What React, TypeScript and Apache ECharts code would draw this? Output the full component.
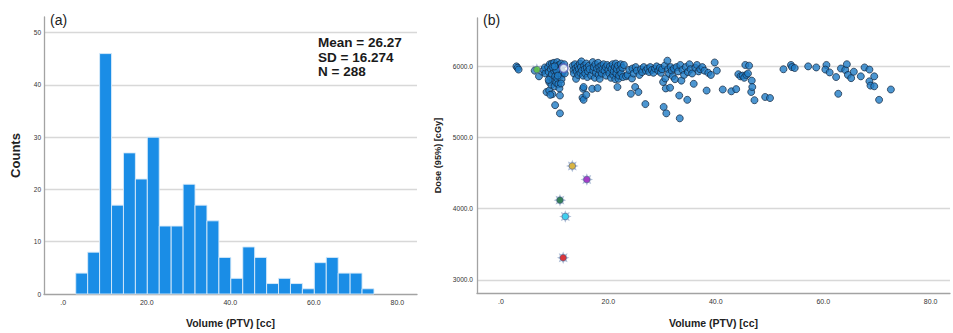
import React, { useEffect, useRef } from 'react';
import * as echarts from 'echarts';

// ---------- Data ----------
// (a) histogram of PTV volume
const histCounts = [4, 8, 46, 17, 27, 22, 30, 13, 13, 21, 17, 14, 7, 3, 9, 7, 2, 3, 2, 1, 6, 7, 4, 4, 1];
const binStart = 3.0;
const binWidth = 2.856;
const statsLines = ['Mean = 26.27', 'SD = 16.274', 'N = 288'];

const countTicks = [0, 10, 20, 30, 40, 50];
const volumeTicks = [0, 20, 40, 60, 80];
const doseTicks = [3000, 4000, 5000, 6000];

// (b) scatter: [volume cc, dose cGy]
const mainPoints: number[][] = [
  [2.9, 6000], [3.1, 5980], [3.3, 5955], [6.3, 5940], [7.1, 5860], [7.7, 5925], [8.0, 5950], [8.3, 5900], [8.5, 5640], [8.2, 5985],
  [8.8, 5990], [8.9, 5920], [9.0, 5660], [9.0, 5780], [9.1, 6030], [9.2, 5850], [9.3, 5960], [9.4, 5740], [9.5, 6040], [9.5, 5890],
  [9.6, 5610], [9.7, 5810], [9.8, 5990], [9.9, 5940], [9.9, 6050], [10.0, 5720], [10.1, 5455], [10.1, 5860], [10.2, 6010], [10.3, 5770],
  [10.4, 5930], [10.5, 6060], [10.5, 5830], [10.6, 5980], [10.7, 5750], [10.8, 6020], [10.8, 5900], [10.9, 5690], [11.0, 5590], [11.0, 5340],
  [11.1, 5960], [11.2, 6040], [11.3, 5880], [11.3, 5820], [11.4, 6000], [11.5, 5920], [9.2, 5600], [9.6, 5990], [10.3, 5950], [8.9, 5810],
  [10.0, 6000], [11.2, 5760], [10.6, 5870], [11.8, 6030], [11.9, 5900],
  [13.4, 6010], [13.5, 5950], [13.6, 5900], [13.8, 6030], [13.9, 5970], [14.0, 5825], [14.1, 5930], [14.3, 6000], [14.4, 5880], [14.5, 5960],
  [14.7, 6040], [14.8, 5910], [14.9, 5990], [15.0, 6070], [15.1, 5940], [15.2, 5560], [15.3, 5685], [15.3, 5870], [15.4, 5530], [15.4, 5710],
  [15.5, 6010], [15.6, 5960], [15.7, 5900], [15.9, 5600], [15.9, 6040], [16.0, 5980], [16.1, 5850], [16.2, 5930], [16.4, 6010], [16.5, 5960],
  [16.8, 5870], [17.0, 5685], [17.1, 6060], [17.2, 5940], [17.3, 5990], [17.5, 5840], [17.6, 6030], [17.7, 5910], [17.9, 5970], [18.0, 5695],
  [18.1, 6050], [18.2, 5880], [18.3, 5990], [18.4, 5825], [18.5, 5940], [18.7, 6010], [18.8, 5900], [18.9, 5960],
  [19.1, 6030], [19.3, 5940], [19.5, 5990], [19.6, 5870], [19.8, 6020], [20.0, 5950], [20.2, 5900], [20.3, 6000], [20.5, 5840], [20.6, 5960],
  [20.8, 6030], [20.9, 5880], [21.0, 5930], [21.2, 5990], [21.3, 5820], [21.4, 6040], [21.5, 5900], [21.6, 5960], [21.7, 5710], [21.8, 6010],
  [21.9, 5825], [22.0, 5870], [22.2, 5950], [22.3, 6030], [22.4, 5900], [22.6, 5980], [22.7, 5850], [22.9, 6020],
  [23.3, 5860], [23.6, 5880], [23.9, 5950], [24.2, 5615], [24.4, 5830], [24.5, 5970], [24.7, 5900], [25.0, 5710], [25.1, 5990], [25.3, 5940],
  [25.6, 5640], [25.8, 5880], [26.1, 5960], [26.3, 5920],
  [26.6, 5990], [26.9, 5470], [27.0, 5940], [27.3, 5970], [27.6, 5920], [27.8, 5990], [28.1, 5950], [28.4, 5910], [28.7, 5970], [29.0, 6000],
  [29.3, 5940], [29.6, 5980], [29.8, 5910],
  [30.0, 5960], [30.2, 5780], [30.3, 5430], [30.5, 6010], [30.6, 5830], [30.7, 5690], [30.8, 5340], [31.0, 6080], [31.1, 5960], [31.3, 5900],
  [31.5, 5700], [31.6, 5990], [31.8, 5940], [32.0, 5860], [32.2, 5970], [32.4, 5820], [32.7, 5990], [33.0, 5930], [33.2, 5590], [33.3, 5270],
  [33.4, 6020], [33.6, 5800], [33.8, 5950], [34.1, 5880], [34.4, 5990], [34.7, 5530], [34.8, 5920],
  [35.1, 6030], [35.3, 5960], [35.6, 5900], [35.9, 5755], [36.2, 5980], [36.5, 6020], [36.8, 5930], [37.1, 5960], [37.5, 5990], [37.9, 5940],
  [38.3, 5660], [38.6, 5910], [39.1, 5880], [39.8, 6055], [40.2, 5940],
  [41.3, 5675], [42.9, 5650], [43.8, 5680], [44.2, 5890], [44.6, 5860], [45.0, 5870], [45.3, 5840], [45.5, 6020], [45.7, 5880], [46.2, 6010],
  [46.6, 5640], [46.7, 5800], [46.8, 5710], [47.2, 5525], [46.0, 5900],
  [49.2, 5570], [50.1, 5555], [52.6, 5960], [54.0, 6020], [54.2, 5990], [54.7, 5977], [57.2, 6000], [58.7, 5985], [60.6, 6020], [60.4, 5955],
  [61.2, 5915], [62.4, 5850], [62.8, 5615], [63.3, 5970], [64.1, 5950], [64.4, 6030], [64.6, 5880], [65.2, 5835], [65.7, 5925], [67.0, 5860],
  [67.7, 5985], [68.6, 5955], [68.6, 5790], [68.8, 5730], [69.5, 5860], [69.5, 5720], [70.4, 5530], [72.6, 5675],
];

// highlighted cases
const outlierVolumes = [6.7, 13.3, 16.0, 11.0, 12.0, 11.6];
const outlierDoses = [5955, 4600, 4410, 4120, 3890, 3310];
const outlierColors = ['#5cc83a', '#e2b21e', '#a11ec4', '#17703a', '#22d2f2', '#e41414'];
const hollowPoint = [11.7, 5975];

// ---------- Styling helpers ----------
const FONT = '"Liberation Sans", Arial, Helvetica, sans-serif';
const STAR =
  'path://M2 1 L1.508 1.21 L1.707 1.707 L1.21 1.508 L1 2 L0.79 1.508 L0.293 1.707 L0.492 1.21 L0 1 L0.492 0.79 L0.293 0.293 L0.79 0.492 L1 0 L1.21 0.492 L1.707 0.293 L1.508 0.79 Z';

const near = (v: number, list: number[]) => list.some((t) => Math.abs(v - t) < 1e-6);
const fmtVol = (v: number) => (near(v, volumeTicks) ? (Math.abs(v) < 1e-9 ? '.0' : v.toFixed(1)) : '');
const fmtCount = (v: number) => (near(v, countTicks) ? String(Math.round(v)) : '');
const fmtDose = (v: number) => (near(v, doseTicks) ? v.toFixed(1) : '');

const axisLineStyle = { color: '#a3a3a3', width: 1.3 };
const splitLineStyle = { color: '#d8d8d8', width: 1.4 };

export default function App() {
  const ref = useRef<HTMLDivElement>(null);

  useEffect(() => {
    if (!ref.current) return;
    const chart = echarts.init(ref.current, undefined, { renderer: 'svg' });

    const histData = histCounts.map((c, i) => [binStart + i * binWidth, binStart + (i + 1) * binWidth, c]);

    const option: any = {
      animation: false,
      textStyle: { fontFamily: FONT },
      grid: [
        { left: 44, top: 17, width: 373, height: 280 },
        { left: 477, top: 18, width: 476, height: 278 },
      ],
      xAxis: [
        {
          gridIndex: 0,
          type: 'value',
          min: -4.6,
          max: 84.7,
          splitNumber: 4,
          axisLine: { show: true, onZero: false, lineStyle: axisLineStyle },
          axisTick: { show: false },
          splitLine: { show: false },
          axisLabel: { formatter: fmtVol, fontSize: 7, color: '#333', margin: 5, fontFamily: FONT },
          name: 'Volume (PTV) [cc]',
          nameLocation: 'middle',
          nameGap: 23,
          nameTextStyle: { fontSize: 10.5, fontWeight: 'bold', color: '#222', fontFamily: FONT },
        },
        {
          gridIndex: 1,
          type: 'value',
          min: -4.44,
          max: 83.6,
          splitNumber: 4,
          axisLine: { show: true, onZero: false, lineStyle: axisLineStyle },
          axisTick: { show: false },
          splitLine: { show: false },
          axisLabel: { formatter: fmtVol, fontSize: 7, color: '#333', margin: 5, fontFamily: FONT },
          name: 'Volume (PTV) [cc]',
          nameLocation: 'middle',
          nameGap: 24,
          nameTextStyle: { fontSize: 10.5, fontWeight: 'bold', color: '#222', fontFamily: FONT },
        },
      ],
      yAxis: [
        {
          gridIndex: 0,
          type: 'value',
          min: 0,
          max: 53,
          interval: 10,
          axisLine: { show: true, onZero: false, lineStyle: axisLineStyle },
          axisTick: { show: false },
          splitLine: { show: true, showMinLine: false, showMaxLine: false, lineStyle: splitLineStyle },
          axisLabel: { formatter: fmtCount, fontSize: 6.5, color: '#333', margin: 3, fontFamily: FONT },
          name: 'Counts',
          nameLocation: 'middle',
          nameGap: 22,
          nameTextStyle: { fontSize: 13, fontWeight: 'bold', color: '#222', fontFamily: FONT },
        },
        {
          gridIndex: 1,
          type: 'value',
          min: 2815,
          max: 6680,
          splitNumber: 4,
          axisLine: { show: true, onZero: false, lineStyle: axisLineStyle },
          axisTick: { show: false },
          splitLine: { show: true, showMinLine: false, showMaxLine: false, lineStyle: splitLineStyle },
          axisLabel: { formatter: fmtDose, fontSize: 6.6, color: '#333', margin: 4, fontFamily: FONT },
          name: 'Dose (95%) [cGy]',
          nameLocation: 'middle',
          nameGap: 35,
          nameTextStyle: { fontSize: 9.2, fontWeight: 'bold', color: '#222', fontFamily: FONT },
        },
      ],
      series: [
        {
          type: 'custom',
          xAxisIndex: 0,
          yAxisIndex: 0,
          data: histData,
          encode: { x: [0, 1], y: 2 },
          renderItem: (params: any, api: any) => {
            const p0 = api.coord([api.value(0), api.value(2)]);
            const p1 = api.coord([api.value(1), 0]);
            return {
              type: 'rect',
              shape: { x: p0[0], y: p0[1], width: p1[0] - p0[0], height: p1[1] - p0[1] },
              style: { fill: '#1a8de6', stroke: '#d9ebf9', lineWidth: 0.9 },
            };
          },
        },
        {
          type: 'scatter',
          xAxisIndex: 1,
          yAxisIndex: 1,
          data: mainPoints,
          symbol: 'circle',
          symbolSize: 7,
          itemStyle: { color: '#1f7cc6', borderColor: '#13263d', borderWidth: 0.9 },
          z: 2,
        },
        {
          type: 'scatter',
          xAxisIndex: 1,
          yAxisIndex: 1,
          data: outlierVolumes.map((v, i) => [v, outlierDoses[i]]),
          symbol: STAR,
          symbolSize: 12.5,
          itemStyle: { color: 'rgba(120,146,186,0.75)' },
          z: 3,
        },
        {
          type: 'scatter',
          xAxisIndex: 1,
          yAxisIndex: 1,
          data: outlierVolumes.map((v, i) => ({
            value: [v, outlierDoses[i]],
            itemStyle: { color: outlierColors[i] },
          })),
          symbol: 'circle',
          symbolSize: 6.5,
          itemStyle: { borderColor: '#3a4a7a', borderWidth: 0.6 },
          z: 4,
        },
        {
          type: 'scatter',
          xAxisIndex: 1,
          yAxisIndex: 1,
          data: [hollowPoint],
          symbol: 'circle',
          symbolSize: 8.5,
          itemStyle: { color: '#ffffff', borderColor: '#5a62b8', borderWidth: 1.6 },
          z: 4,
        },
      ],
      graphic: [
        { type: 'text', left: 50, top: 13, style: { text: '(a)', fontSize: 14, fill: '#222', fontFamily: FONT } },
        { type: 'text', left: 483, top: 13, style: { text: '(b)', fontSize: 14, fill: '#222', fontFamily: FONT } },
        {
          type: 'text',
          left: 318,
          top: 35,
          style: {
            text: statsLines.join('\n'),
            fontSize: 13.5,
            fontWeight: 'bold',
            lineHeight: 14.7,
            fill: '#1a1a1a',
            fontFamily: FONT,
          },
        },
      ],
    };

    chart.setOption(option);
    return () => chart.dispose();
  }, []);

  return <div ref={ref} style={{ position: 'absolute', left: 0, top: 0, width: 953, height: 333 }} />;
}
